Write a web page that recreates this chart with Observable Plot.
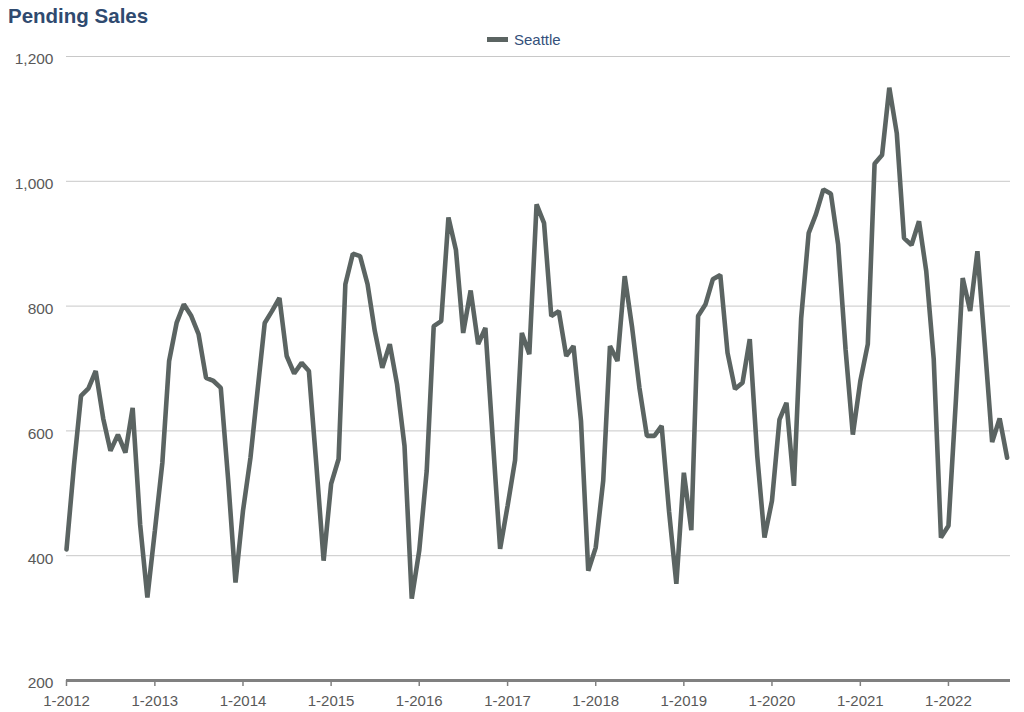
<!DOCTYPE html>
<html><head><meta charset="utf-8">
<script src="https://cdn.jsdelivr.net/npm/d3@7"></script>
<script src="https://cdn.jsdelivr.net/npm/@observablehq/plot@0.6"></script>
<style>
body{margin:0;background:#fff;font-family:"Liberation Sans",Arial,sans-serif;}
#wrap{position:relative;width:1024px;height:712px;overflow:hidden;background:#fff}
#title{position:absolute;left:8px;top:6px;font-size:20.5px;font-weight:bold;color:#2f4a6f;line-height:20px;white-space:nowrap}
#legend{position:absolute;left:487px;top:30px;display:flex;align-items:center;height:19px;font-size:15px;color:#34507a;white-space:nowrap}
#legend .sw{display:inline-block;width:21px;height:5px;background:#5b6462;margin-right:6px}
#chart{position:absolute;left:0;top:46px}
</style></head><body>
<div id="wrap">
  <div id="title">Pending Sales</div>
  <div id="legend"><span class="sw"></span>Seattle</div>
  <div id="chart"></div>
</div>
<script>
// Seattle pending sales, monthly, January 2012 – September 2022
const seriesName = "Seattle";
const sales2012 = [410, 545, 656, 668, 696, 620, 568, 594, 565, 637, 450, 333];
const sales2013 = [440, 549, 712, 773, 803, 784, 755, 685, 680, 669, 520, 357];
const sales2014 = [472, 557, 660, 773, 792, 813, 720, 692, 709, 696, 545, 392];
const sales2015 = [515, 555, 835, 884, 880, 835, 760, 701, 739, 675, 576, 331];
const sales2016 = [408, 536, 768, 776, 942, 890, 757, 825, 739, 765, 585, 411];
const sales2017 = [480, 553, 757, 723, 963, 933, 784, 792, 720, 736, 616, 376];
const sales2018 = [413, 520, 736, 712, 848, 765, 669, 592, 592, 608, 470, 355];
const sales2019 = [533, 441, 784, 803, 843, 850, 725, 667, 677, 747, 560, 429];
const sales2020 = [488, 618, 645, 512, 781, 917, 947, 987, 980, 899, 730, 594];
const sales2021 = [680, 739, 1028, 1042, 1150, 1077, 909, 898, 936, 856, 715, 429];
const sales2022 = [448, 650, 845, 792, 888, 735, 582, 620, 557];

const years = [2012, 2013, 2014, 2015, 2016, 2017, 2018, 2019, 2020, 2021, 2022];
const yearlySales = [sales2012, sales2013, sales2014, sales2015, sales2016, sales2017,
                     sales2018, sales2019, sales2020, sales2021, sales2022];
const yTicks = [200, 400, 600, 800, 1000, 1200];

const data = [];
years.forEach((yr, i) => {
  yearlySales[i].forEach((v, m) => data.push({date: new Date(Date.UTC(yr, m, 1)), value: v, series: seriesName}));
});
const xTicks = years.map(yr => new Date(Date.UTC(yr, 0, 1)));

const chart = Plot.plot({
  width: 1024,
  height: 666,
  marginTop: 10,
  marginBottom: 32,
  marginLeft: 66,
  marginRight: 14,
  style: {fontFamily: "'Liberation Sans', Arial, sans-serif", fontSize: "15px", color: "#595959", background: "#fff", overflow: "visible"},
  x: {type: "utc", domain: [new Date(Date.UTC(2012, 0, 1)), new Date(Date.UTC(2022, 8, 15))], label: null},
  y: {domain: [200, 1200], label: null},
  marks: [
    Plot.gridY(yTicks, {stroke: "#c8c8c8", strokeOpacity: 1, strokeWidth: 1}),
    Plot.axisY(yTicks, {tickSize: 0, tickPadding: 13, tickFormat: d3.format(","), fill: "#595959", dy: 3, fontSize: 15.5, label: null}),
    Plot.ruleY([200], {stroke: "#808080", strokeWidth: 3}),
    Plot.axisX(xTicks, {tickSize: 6, tickPadding: 9, tickFormat: d => "1-" + d.getUTCFullYear(), stroke: "#808080", strokeWidth: 1.5, fill: "#595959", label: null}),
    Plot.line(data, {x: "date", y: "value", stroke: "#5b6462", strokeWidth: 4.6, strokeLinejoin: "miter"})
  ]
});
document.getElementById("chart").appendChild(chart);
</script>
</body></html>
